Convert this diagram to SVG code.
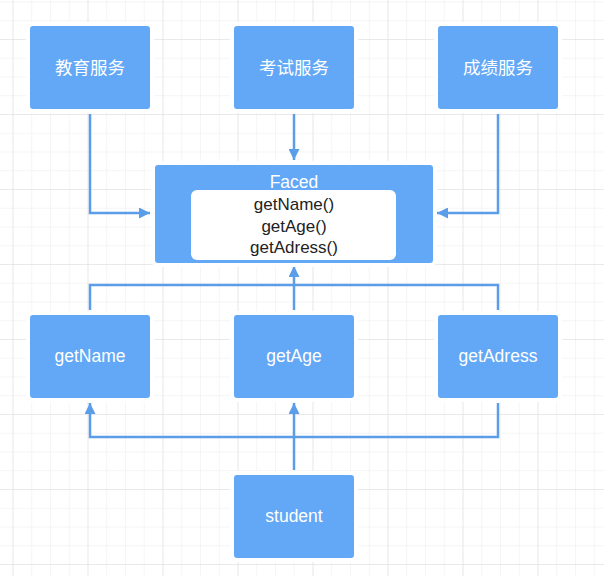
<svg xmlns="http://www.w3.org/2000/svg" width="604" height="576" viewBox="0 0 604 576">
<defs>
<pattern id="minor" x="12.5" y="1.5" width="18.75" height="18.75" patternUnits="userSpaceOnUse">
<path d="M0 0V18.75M0 0H18.75" fill="none" stroke="#ececec" stroke-width="1"/>
</pattern>
<pattern id="major" x="12.5" y="39" width="75" height="75" patternUnits="userSpaceOnUse">
<path d="M0 0V75M0 0H75" fill="none" stroke="#dedede" stroke-width="1"/>
</pattern>
<marker id="arr" viewBox="0 0 10 10" refX="10" refY="5" markerWidth="16" markerHeight="11" markerUnits="userSpaceOnUse" orient="auto">
<path d="M0 0L10 5L0 10Z" fill="#5b9de8"/>
</marker>
</defs>
<style>
.box{fill:#62a8f6;stroke:#ffffff;stroke-width:8;paint-order:stroke;}
.lbl{font-family:"Liberation Sans","Noto Sans CJK SC",Arial,sans-serif;font-size:17.5px;fill:#ffffff;text-anchor:middle;}
.mth{font-family:"Liberation Sans",Arial,sans-serif;font-size:17px;fill:#222222;text-anchor:middle;}
.conn{fill:none;stroke:#5b9de8;stroke-width:2.5;}
</style>
<rect width="604" height="576" fill="#ffffff"/>
<rect width="604" height="576" fill="url(#minor)"/>
<rect width="604" height="576" fill="url(#major)"/>

<g id="connectors">
<path class="conn" d="M90 114V213H150" marker-end="url(#arr)"/>
<path class="conn" d="M294 114V160" marker-end="url(#arr)"/>
<path class="conn" d="M498 114V213H437" marker-end="url(#arr)"/>
<path class="conn" d="M90 310V285H498V310"/>
<path class="conn" d="M294 310V266" marker-end="url(#arr)"/>
<path class="conn" d="M294 470V403" marker-end="url(#arr)"/>
<path class="conn" d="M498 403V437H90V403" marker-end="url(#arr)"/>
</g>

<g id="edu">
<rect class="box" x="30" y="26" width="120" height="83" rx="3"/>
<text class="lbl" x="90" y="74">教育服务</text>
</g>
<g id="exam">
<rect class="box" x="234" y="26" width="120" height="83" rx="3"/>
<text class="lbl" x="294" y="74">考试服务</text>
</g>
<g id="score">
<rect class="box" x="438" y="26" width="120" height="83" rx="3"/>
<text class="lbl" x="498" y="74">成绩服务</text>
</g>

<g id="faced">
<rect class="box" x="155" y="165" width="278" height="98" rx="3"/>
<text class="lbl" x="294" y="188">Faced</text>
<rect x="191" y="190" width="205" height="70" rx="6" fill="#ffffff"/>
<text class="mth" x="294" y="210">getName()</text>
<text class="mth" x="294" y="232">getAge()</text>
<text class="mth" x="294" y="253">getAdress()</text>
</g>

<g id="getName">
<rect class="box" x="30" y="315" width="120" height="83" rx="3"/>
<text class="lbl" x="90" y="362">getName</text>
</g>
<g id="getAge">
<rect class="box" x="234" y="315" width="120" height="83" rx="3"/>
<text class="lbl" x="294" y="362">getAge</text>
</g>
<g id="getAdress">
<rect class="box" x="438" y="315" width="120" height="83" rx="3"/>
<text class="lbl" x="498" y="362">getAdress</text>
</g>
<g id="student">
<rect class="box" x="234" y="475" width="120" height="83" rx="3"/>
<text class="lbl" x="294" y="522">student</text>
</g>
</svg>
